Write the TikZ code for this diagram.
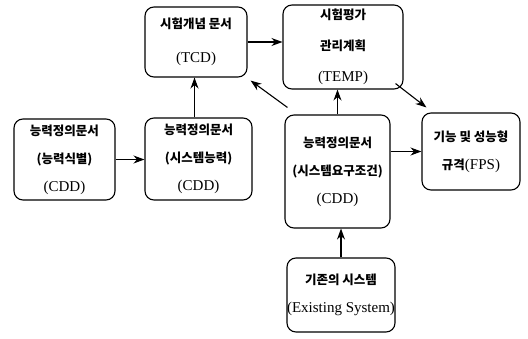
\documentclass[tikz,border=0pt]{standalone}
\usepackage{fontspec}
\setmainfont{Liberation Serif}
\newfontfamily\kr{Noto Sans CJK KR}
\usetikzlibrary{arrows.meta,calc}
\newcommand\latn[1]{{\rmfamily\mdseries\fontsize{15}{28}\selectfont #1}}
\begin{document}
\begin{tikzpicture}[x=1pt,y=-1pt,
  box/.style={draw, line width=1.1pt, rounded corners=9pt, align=center, inner sep=0pt,
    font=\kr\bfseries\fontsize{12.5}{28}\selectfont},
  conn/.style={line width=1.1pt, -{Stealth[length=11pt,width=8pt]}}]
\useasboundingbox (0,0) rectangle (528,338);
\node[box, minimum width=101pt, minimum height=81pt] (A) at (64.5,159.5)
  {능력정의문서\\(능력식별)\\\latn{(CDD)}};
\node[box, minimum width=107pt, minimum height=82pt] (B) at (198.5,159)
  {능력정의문서\\(시스템능력)\\\latn{(CDD)}};
\node[box, minimum width=105pt, minimum height=113pt] (C) at (337.5,171.5)
  {능력정의문서\\(시스템요구조건)\\\latn{(CDD)}};
\node[box, minimum width=98pt, minimum height=77pt] (D) at (471,151.5)
  {기능 및 성능형\\규격\latn{(FPS)}};
\node[box, minimum width=102pt, minimum height=70pt, font=\kr\bfseries\fontsize{12.5}{34}\selectfont] (E) at (196,42)
  {시험개념 문서\\\latn{(TCD)}};
\node[box, minimum width=120pt, minimum height=84pt, font=\kr\bfseries\fontsize{12.5}{31}\selectfont] (F) at (343,47)
  {시험평가\\관리계획\\\latn{(TEMP)}};
\node[box, minimum width=108pt, minimum height=74pt] (G) at (341,295)
  {기존의 시스템\\\latn{(Existing System)}};
\draw[conn] (A.east) -- (A.east -| B.west);
\draw[conn] ([xshift=-4pt]B.north) -- ([xshift=-4pt]B.north |- E.south);
\draw[conn] (E.east) -- (E.east -| F.west);
\draw[conn] (C.north) -- (C.north |- F.south);
\draw[conn] (G.north) -- (G.north |- C.south);
\draw[conn] (C.east |- D.west) -- (D.west);
\draw[conn] ($(C.north west)+(3,-7)$) -- ($(E.south east)+(3,3)$);
\draw[conn] ($(F.south east)+(-8,-6)$) -- ($(D.north west)+(5,-5)$);
\end{tikzpicture}
\end{document}
